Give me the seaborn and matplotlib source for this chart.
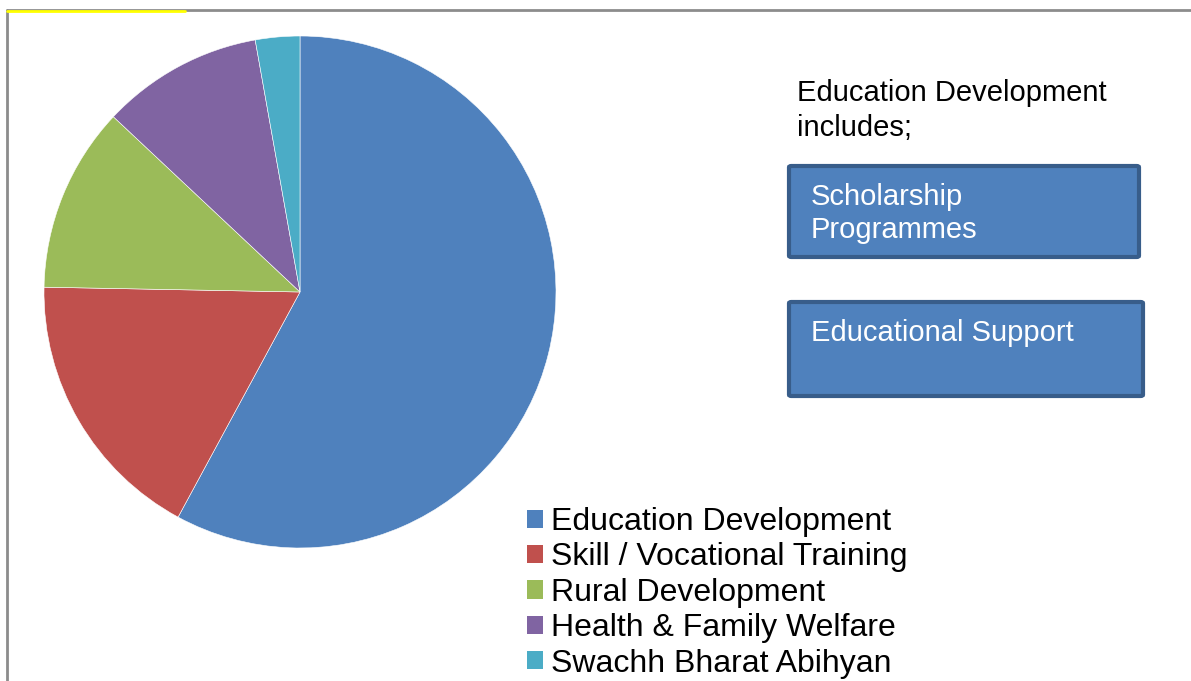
import numpy as np
import matplotlib
matplotlib.use("Agg")
import matplotlib.pyplot as plt
import seaborn as sns
from matplotlib.patches import Patch, FancyBboxPatch
from matplotlib.lines import Line2D

# Share of CSR spend by area (percent)
categories = ["Education Development", "Skill / Vocational Training",
              "Rural Development", "Health & Family Welfare", "Swachh Bharat Abihyan"]
shares = [57.9, 17.4, 11.7, 10.2, 2.8]
colors = ["#4f81bd", "#c0504d", "#9bbb59", "#8064a2", "#4bacc6"]

note_title = "Education Development\nincludes;"
box_labels = ["Scholarship\nProgrammes", "Educational Support"]

sns.set_theme(style="white")
plt.rcParams["font.family"] = ["Liberation Sans", "DejaVu Sans"]

W, H = 1191, 681
fig = plt.figure(figsize=(W / 100, H / 100), dpi=100)


def fx(x):
    return x / W


def fy(y):
    return 1 - y / H


# pie axes: center (300, 292), radius 256 px
ax = fig.add_axes([fx(44), fy(548), 512 / W, 512 / H])
palette = sns.color_palette(colors)
ax.pie(shares, colors=palette, startangle=90, counterclock=False, radius=1,
       wedgeprops=dict(edgecolor="white", linewidth=0.4))
ax.set_xlim(-1, 1)
ax.set_ylim(-1, 1)
ax.set_aspect("equal")
ax.axis("off")

# legend
handles = [Patch(facecolor=c, edgecolor="none") for c in palette]
leg = fig.legend(handles, categories, loc="upper left", bbox_to_anchor=(fx(527), fy(507)),
                 frameon=False, fontsize=23, handlelength=0.5, handleheight=0.5,
                 handletextpad=0.25, labelspacing=0.17, borderpad=0, borderaxespad=0)
for t in leg.get_texts():
    t.set_color("black")

# side note
fig.text(fx(797), fy(79), note_title, fontsize=21, color="black", va="top", ha="left",
         linespacing=1.3)

boxes = [(789, 166, 350, 91), (789, 302, 354, 94)]
for (bx, by, bw, bh), lab in zip(boxes, box_labels):
    patch = FancyBboxPatch((fx(bx), fy(by + bh)), bw / W, bh / H,
                           boxstyle="round,pad=0,rounding_size=0.002",
                           transform=fig.transFigure, facecolor="#4f81bd",
                           edgecolor="#385d8a", linewidth=3)
    fig.add_artist(patch)
    fig.text(fx(811), fy(by + 17), lab, fontsize=21, color="white", va="top",
             ha="left", linespacing=1.25)

# frame lines of the original slide
fig.add_artist(Line2D([fx(7), fx(7)], [fy(10), 0], transform=fig.transFigure,
                      color="#8c8c8c", linewidth=2))
fig.add_artist(Line2D([fx(7), 1], [fy(10), fy(10)], transform=fig.transFigure,
                      color="#8c8c8c", linewidth=2))
fig.add_artist(Line2D([fx(7), fx(185)], [fy(11), fy(11)], transform=fig.transFigure,
                      color="#ffff00", linewidth=2))

fig.savefig("out.png", dpi=100)
